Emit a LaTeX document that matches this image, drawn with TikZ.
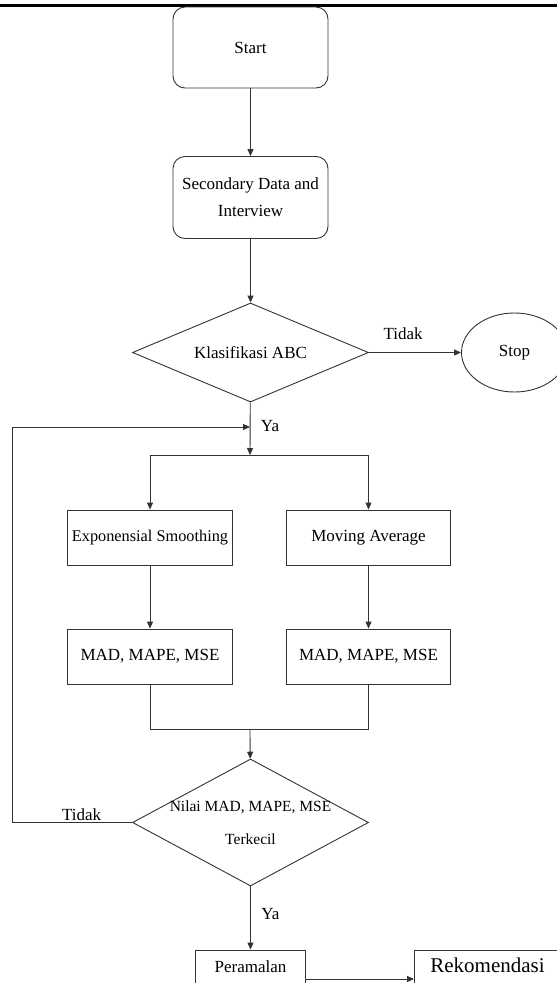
\documentclass[tikz,border=0pt]{standalone}
\usepackage{fontspec}
\setmainfont{Liberation Serif}
\usetikzlibrary{shapes.geometric, arrows.meta, positioning}
\tikzstyle{arrow} = [line width=0.9pt, draw=black!80, -{Triangle[length=7pt,width=6pt]}]
\tikzstyle{link} = [line width=0.9pt, draw=black!80]
\tikzstyle{startstop} = [
rectangle, rounded corners=12pt, minimum width=155pt, minimum height=81pt,
text centered, align=center, draw=black!80, line width=0.9pt, font=\fontsize{17}{27}\selectfont
]
\tikzstyle{terminal} = [
ellipse, minimum width=106pt, minimum height=79pt,
text centered, draw=black!80, line width=0.9pt, font=\fontsize{17}{20}\selectfont
]
\tikzstyle{process} = [
rectangle, minimum width=165pt, minimum height=55pt, inner xsep=2pt,
text centered, draw=black!80, line width=0.9pt, font=\fontsize{17}{20}\selectfont
]
\tikzstyle{decision} = [
diamond, aspect=2.38, minimum width=236pt, minimum height=99pt, align=center,
text centered, inner sep=0pt, draw=black!80, line width=0.9pt, font=\fontsize{17}{20}\selectfont
]
\tikzstyle{result} = [
rectangle, minimum height=58pt, inner ysep=3pt, text height=12pt, text depth=26pt,
text centered, draw=black!80, line width=0.9pt, font=\fontsize{17}{20}\selectfont
]

\begin{document}
\begin{tikzpicture}[x=1pt, y=-1pt, node distance=150pt]
			\useasboundingbox (0,0) rectangle (557,983);
			\draw [line width=2.5pt] (0,5.5) -- (557,5.5);

			% Nodes
			\node (start) [startstop] at (250.5,47.5) {Start};
			\node (data) [startstop, below of=start, minimum height=82pt] {Secondary Data and\\Interview};
			\node (abc) [decision, below of=data, yshift=-5pt] {Klasifikasi ABC};
			\node (stop) [terminal, right of=abc, xshift=114pt] {Stop};
			\node (exps) [process, below of=abc, xshift=-100.5pt, yshift=-35pt, font=\fontsize{16.3}{20}\selectfont] {Exponensial Smoothing};
			\node (mova) [process, right of=exps, xshift=68.5pt, minimum width=164pt] {Moving Average};
			\node (madl) [process, below of=exps, yshift=31pt] {MAD, MAPE, MSE};
			\node (madr) [process, below of=mova, yshift=31pt, minimum width=164pt] {MAD, MAPE, MSE};
			\node (best) [decision, below of=madl, xshift=100.5pt, yshift=-16pt, aspect=1.86, minimum height=127pt, inner sep=-4pt, font=\fontsize{15.5}{33}\selectfont] {Nilai MAD, MAPE, MSE\\Terkecil};
			\node (rama) [result, below of=best, yshift=-6.5pt, minimum width=110pt] {Peramalan};
			\node (reko) [result, right of=rama, xshift=87pt, minimum width=146pt, text height=15pt, text depth=29pt, font=\fontsize{21}{26}\selectfont] {Rekomendasi};

			% Junctions
			\coordinate (split) at (250,455);
			\coordinate (merge) at (250,729);
			\coordinate (loopcorner) at (12,427);
			\coordinate (loopin) at (250,427);

			% Connections
			\draw [arrow] (start) -- (data);
			\draw [arrow] (data) -- (abc);
			\draw [arrow] (abc) -- node[above, pos=0.37, yshift=9pt, font=\fontsize{17}{20}\selectfont] {Tidak} (stop);
			\draw [arrow] (abc) -- node[right, pos=0.45, xshift=7pt, font=\fontsize{17}{20}\selectfont] {Ya} (split);
			\draw [arrow] (split) -| (exps);
			\draw [arrow] (split) -| (mova);
			\draw [arrow] (exps) -- (madl);
			\draw [arrow] (mova) -- (madr);
			\draw [link] (madl) |- (merge);
			\draw [link] (madr) |- (merge);
			\draw [arrow] (merge) -- (best);
			\draw [arrow] (best.west) -| node[above, pos=0.21, inner sep=1pt, font=\fontsize{17}{20}\selectfont] {Tidak} (loopcorner) -- (loopin);
			\draw [arrow] (best) -- node[right, pos=0.44, xshift=7pt, font=\fontsize{17}{20}\selectfont] {Ya} (rama);
			\draw [arrow] (rama) -- (reko);

		\end{tikzpicture}
\end{document}
